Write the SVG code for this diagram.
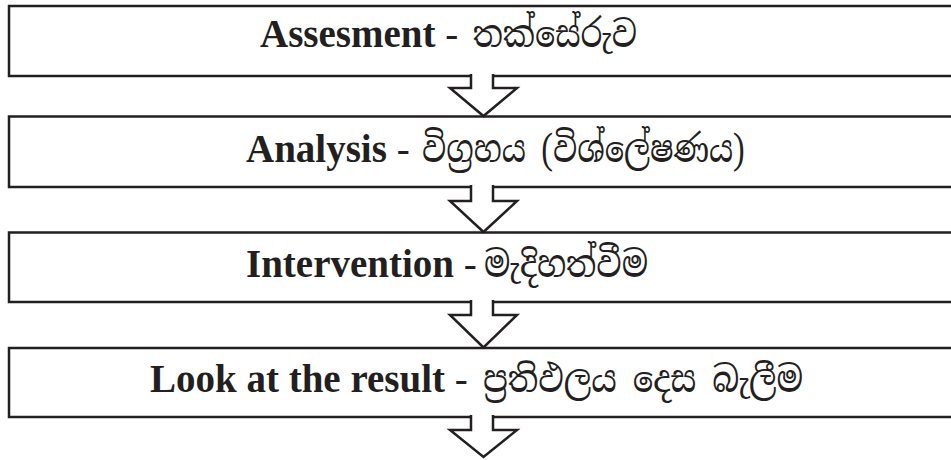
<svg xmlns="http://www.w3.org/2000/svg" width="951" height="460" viewBox="0 0 951 460">
<style>
.box{fill:#fff;stroke:#231f20;stroke-width:2.5}
.arr{fill:#fff;stroke:#231f20;stroke-width:2.5;stroke-linejoin:miter}
.t{font-family:"Liberation Serif","Noto Sans Sinhala","Noto Serif Sinhala",serif;font-size:39px;fill:#231f20}
.en{font-weight:bold}
.si{font-family:"Noto Serif Sinhala","Noto Sans Sinhala","Iskoola Pota","Liberation Serif",serif;font-size:37px}
</style>
<rect width="951" height="460" fill="#fff"/>
<g id="node-assessment">
<rect class="box" x="9" y="6" width="960" height="70"/>
<text class="t" x="260" y="47"><tspan class="en">Assesment</tspan> - <tspan class="si" x="473" textLength="164" lengthAdjust="spacingAndGlyphs">තක්සේරුව</tspan></text>
</g>
<g id="node-analysis">
<rect class="box" x="9" y="116.5" width="960" height="70.5"/>
<text class="t" x="246" y="162"><tspan class="en">Analysis</tspan> - <tspan class="si" x="422" textLength="323" lengthAdjust="spacingAndGlyphs">විග්‍රහය (විශ්ලේෂණය)</tspan></text>
</g>
<g id="node-intervention">
<rect class="box" x="9" y="232.5" width="960" height="69.5"/>
<text class="t" x="246" y="277"><tspan class="en">Intervention</tspan> - <tspan class="si" x="484" textLength="164" lengthAdjust="spacingAndGlyphs">මැදිහත්වීම</tspan></text>
</g>
<g id="node-result">
<rect class="box" x="9" y="348" width="960" height="69"/>
<text class="t" x="150" y="392"><tspan class="en">Look at the result</tspan> - <tspan class="si" x="483" textLength="320" lengthAdjust="spacingAndGlyphs">ප්‍රතිඵලය දෙස බැලීම</tspan></text>
</g>
<g id="connectors">
<path class="arr" d="M471,74 V88 H450 L483.5,116 L517,88 H493 V74"/>
<path class="arr" d="M471,185 V201 H450 L483.5,232 L517,201 H493 V185"/>
<path class="arr" d="M471,300 V315 H450 L483.5,347.5 L517,315 H493 V300"/>
<path class="arr" d="M471,415 V430 H450 L483.5,457 L517,430 H493 V415"/>
</g>
</svg>
